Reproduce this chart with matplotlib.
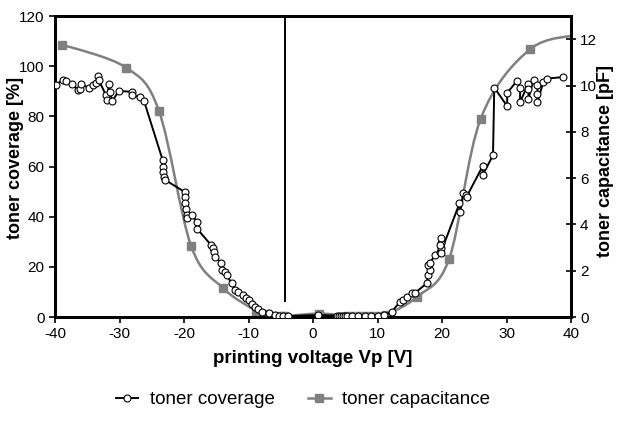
import numpy as np
import matplotlib
matplotlib.use('Agg')
import matplotlib.pyplot as plt
from matplotlib.path import Path
from matplotlib.patches import PathPatch
from matplotlib.lines import Line2D

plt.rcParams['font.family'] = ['Liberation Sans', 'DejaVu Sans']
plt.rcParams['axes.unicode_minus'] = False

# toner coverage measurements [%] vs printing voltage [V]
cov_x = [-39.8, -38.8, -38.3, -37.3, -36.5, -36.2, -36.0, -34.8, -34.1, -33.6,
         -33.3, -33.2, -32.1, -32.0, -31.6, -31.5, -31.1, -30.1, -28.1, -28.0,
         -26.9, -26.2, -23.3, -23.2, -23.2, -23.1, -23.0, -19.9, -19.8, -19.8,
         -19.7, -19.6, -19.5, -18.8, -18.0, -18.0, -15.8, -15.5, -15.3, -15.2,
         -14.2, -14.1, -13.6, -13.4, -12.6, -12.1, -11.6, -10.8, -10.4, -10.0,
         -9.5, -9.0, -8.5, -7.9, -6.9, -5.9, -5.2, -4.7, -3.9,
         0.7, 3.7, 4.0, 4.3, 4.6, 5.0, 5.3, 6.0, 7.0, 8.0, 9.0, 10.0, 11.0,
         12.2, 13.5, 14.0, 14.5, 15.3, 15.8, 17.6, 17.9, 18.1, 17.9, 18.1,
         18.9, 19.7, 19.8, 19.8, 19.8, 19.7, 19.8, 22.7, 22.8, 23.3, 23.7,
         23.8, 26.3, 26.3, 27.9, 28.1, 30.1, 30.1, 31.6, 32.1, 32.1, 33.4,
         33.4, 33.4, 34.2, 34.8, 34.8, 34.8, 35.7, 36.2, 38.8]
cov_y = [92.7, 94.7, 94.0, 93.1, 90.4, 91.0, 92.8, 91.5, 92.4, 93.5,
         96.0, 94.5, 88.4, 86.5, 93.1, 89.8, 86.2, 90.2, 89.8, 88.4,
         87.8, 86.2, 62.5, 60.0, 58.0, 56.0, 54.8, 49.9, 48.0, 45.5,
         43.0, 40.5, 39.4, 40.6, 38.0, 35.3, 28.7, 27.5, 26.0, 24.0,
         21.5, 18.7, 18.0, 16.7, 13.4, 10.8, 10.1, 8.8, 7.6, 6.8,
         5.2, 4.1, 3.2, 2.2, 1.5, 0.8, 0.5, 0.4, 0.4,
         0.8, 0.6, 0.4, 0.5, 0.4, 0.5, 0.4, 0.4, 0.5, 0.4, 0.5, 0.6, 0.8,
         2.1, 6.1, 6.8, 8.1, 9.4, 9.6, 13.4, 16.7, 18.7, 20.7, 21.4,
         24.7, 26.0, 27.5, 29.4, 31.4, 28.7, 25.6, 45.3, 42.0, 49.3, 48.6,
         47.9, 60.2, 56.6, 64.5, 91.5, 84.1, 89.4, 94.1, 91.5, 85.8, 93.1,
         91.1, 87.1, 94.7, 92.4, 89.1, 85.8, 93.7, 95.1, 95.7]

# toner capacitance [pF]
cap_x = [-38.9, -29.0, -23.9, -18.9, -14.0, -8.8, -7.5, -6.2, -5.0, -4.5,
         0.9, 5.5, 6.5, 7.5, 8.5, 9.5, 10.5, 11.3, 16.1, 21.1, 26.0, 33.6, 41.5]
cap_y = [11.77, 10.78, 8.92, 3.07, 1.26, 0.26, 0.12, 0.06, 0.04, 0.03,
         0.15, 0.05, 0.05, 0.05, 0.05, 0.05, 0.06, 0.08, 0.87, 2.51, 8.57, 11.56, 12.2]

marker_v = -4.3
gray = '#808080'
narrow = ['Liberation Sans Narrow', 'Liberation Sans']


def smooth_path(xs, ys, t=1/6):
    # Bezier smoothed polyline through the points (like a spreadsheet smoothed line)
    p = np.column_stack([xs, ys])
    verts = [p[0]]
    codes = [Path.MOVETO]
    n = len(p)
    for i in range(n - 1):
        p0 = p[i - 1] if i > 0 else p[i]
        p3 = p[i + 2] if i + 2 < n else p[i + 1]
        c1 = p[i] + (p[i + 1] - p0) * t
        c2 = p[i + 1] - (p3 - p[i]) * t
        verts += [c1, c2, p[i + 1]]
        codes += [Path.CURVE4] * 3
    return Path(verts, codes)


fig = plt.figure(figsize=(6.18, 4.25), dpi=100)
ax = fig.add_axes([0.089, 0.254, 0.835, 0.708])
ax2 = ax.twinx()

ax2.add_patch(PathPatch(smooth_path(cap_x, cap_y), facecolor='none',
                        edgecolor=gray, lw=1.8, zorder=2))
ax2.plot(cap_x, cap_y, ls='none', marker='s', ms=5.5, mfc=gray, mec=gray, zorder=3)

ax.plot(cov_x, cov_y, color='black', lw=1.4, marker='o', ms=5,
        mfc='white', mec='black', mew=0.8, zorder=4)
ax.axvline(marker_v, ymin=0.055, ymax=1, color='black', lw=1.4)

ax.set_zorder(ax2.get_zorder() + 1)
ax.patch.set_visible(False)

ax.set_xlim(-40, 40)
ax.set_ylim(0, 120)
ax2.set_ylim(0, 13)
ax.set_xticks(np.arange(-40, 41, 10))
ax.set_yticks(np.arange(0, 121, 20))
ax2.set_yticks(np.arange(0, 13, 2))

for a in (ax, ax2):
    for s in a.spines.values():
        s.set_linewidth(2)
ax.tick_params(axis='both', direction='out', length=4, width=1.2, labelsize=11)
ax2.tick_params(axis='y', direction='inout', length=7, width=1.2, labelsize=11, pad=3)
for lab in ax.get_xticklabels() + ax.get_yticklabels() + ax2.get_yticklabels():
    lab.set_family(narrow)

ax.set_xlabel('printing voltage Vp [V]', fontsize=13.5, fontweight='bold', labelpad=6)
ax.set_ylabel('toner coverage [%]', fontsize=13, fontweight='bold')
ax2.set_ylabel('toner capacitance [pF]', fontsize=13, fontweight='bold')
ax.yaxis.set_label_coords(-0.06, 0.53)
ax2.yaxis.set_label_coords(1.05, 0.52)

handles = [Line2D([], [], color='black', lw=1.4, marker='o', ms=5, mfc='white',
                  mec='black', mew=0.8),
           Line2D([], [], color=gray, lw=1.8, marker='s', ms=5.5, mfc=gray, mec=gray)]
fig.legend(handles, ['toner coverage', 'toner capacitance'], loc='center',
           bbox_to_anchor=(0.49, 0.06), ncol=2, frameon=False, fontsize=13.5,
           handlelength=1.2, columnspacing=1.8, handletextpad=0.6)

fig.savefig('out.png', dpi=100)
